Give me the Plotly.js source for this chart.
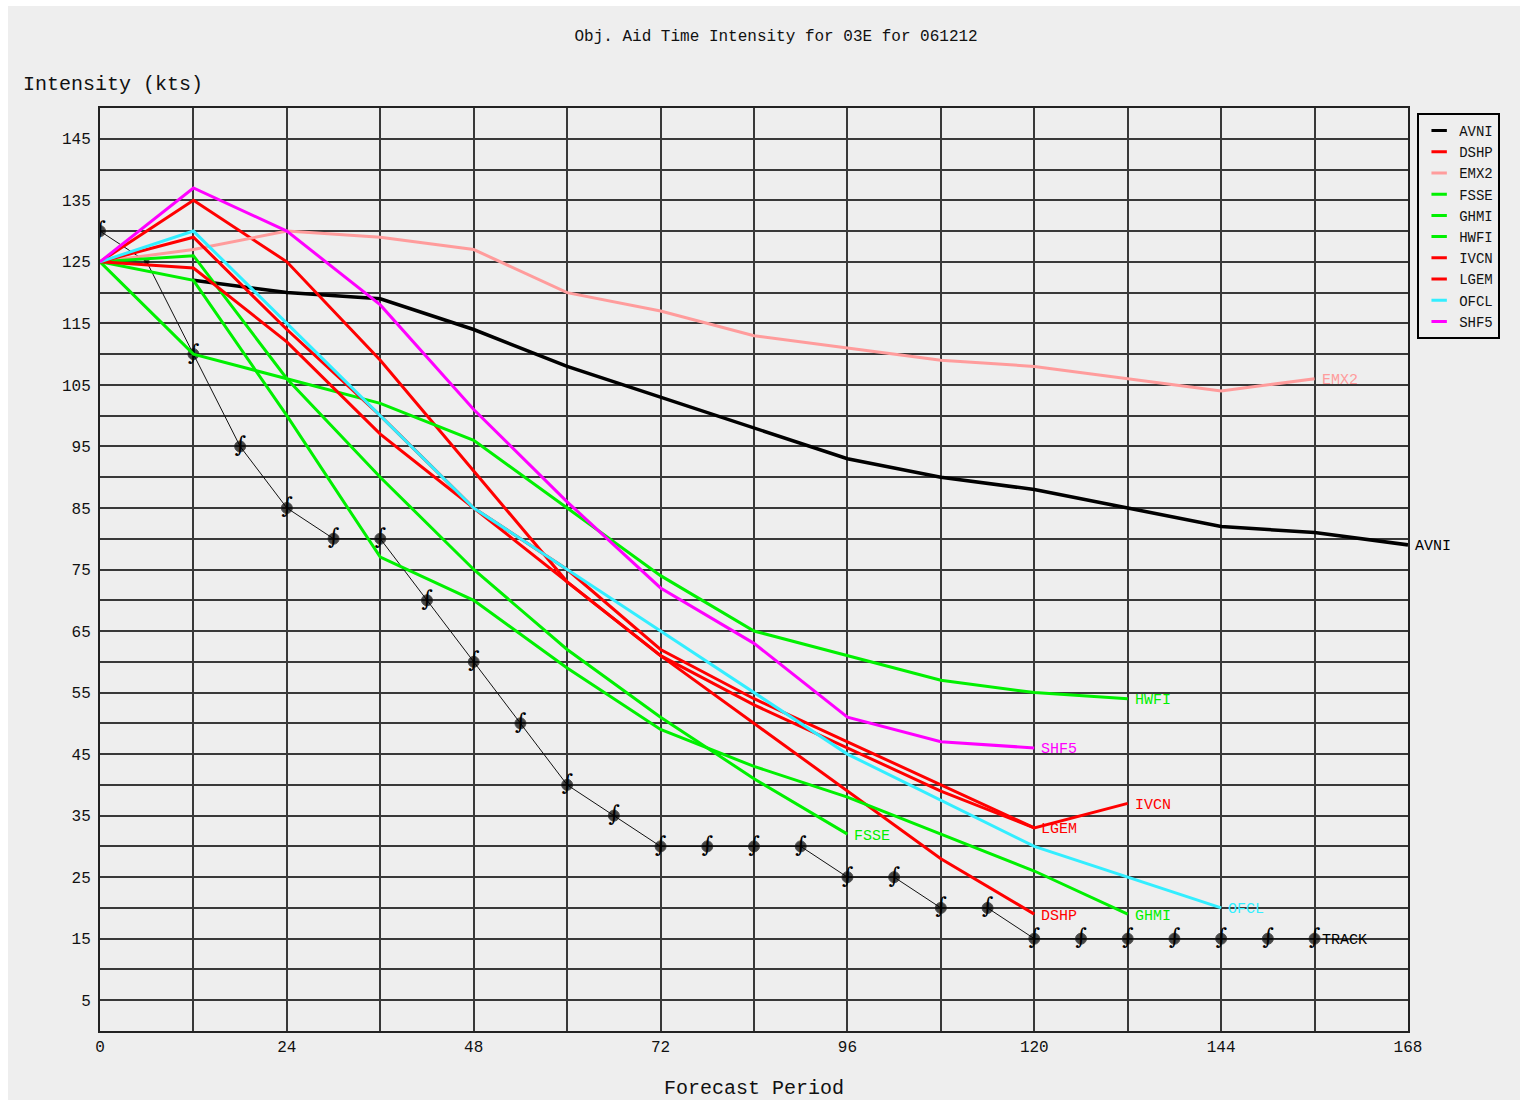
<!DOCTYPE html>
<html>
<head>
<meta charset="utf-8">
<script src="https://cdn.plot.ly/plotly-3.0.1.min.js"></script>
<style>
html,body{margin:0;padding:0;background:#ffffff;}
#chart{position:absolute;left:8px;top:6px;width:1512px;height:1094px;}
</style>
</head>
<body>
<div id="chart"></div>
<script>
// ---- data ----
const avniHours = [12,24,36,48,60,72,84,96,108,120,132,144,156,168];
const avniVals  = [122,120,119,114,108,103,98,93,90,88,85,82,81,79];

const dshpHours = [0,12,24,36,48,60,72,84,96,108,120];
const dshpVals  = [125,135,125,109,91,73,61,50,39,28,19];

const emx2Hours = [0,12,24,36,48,60,72,84,96,108,120,132,144,156];
const emx2Vals  = [125,127,130,129,127,120,117,113,111,109,108,106,104,106];

const fsseHours = [0,12,24,36,48,60,72,84,96];
const fsseVals  = [125,126,106,90,75,62,51,41,32];

const ghmiHours = [0,12,24,36,48,60,72,84,96,108,120,132];
const ghmiVals  = [125,122,100,77,70,59,49,43,38,32,26,19];

const hwfiHours = [0,12,24,36,48,60,72,84,96,108,120,132];
const hwfiVals  = [125,110,106,102,96,85,74,65,61,57,55,54];

const ivcnHours = [0,12,24,36,48,60,72,84,96,108,120,132];
const ivcnVals  = [125,124,112,97,85,73,61,53,46,39,33,37];

const lgemHours = [0,12,24,36,48,60,72,84,96,108,120];
const lgemVals  = [125,129,114,100,85,75,62,54,47,40,33];

const ofclHours = [0,12,24,36,48,72,96,120,144];
const ofclVals  = [125,130,115,100,85,65,45,30,20];

const shf5Hours = [0,12,24,36,48,60,72,84,96,108,120];
const shf5Vals  = [125,137,130,118,101,86,72,63,51,47,46];

const trackHours = [0,6,12,18,24,30,36,42,48,54,60,66,72,78,84,90,96,102,108,114,120,126,132,138,144,150,156];
const trackVals  = [130,125,110,95,85,80,80,70,60,50,40,35,30,30,30,30,25,25,20,20,15,15,15,15,15,15,15];

const xTickLabels = [0,24,48,72,96,120,144,168];
const yTickLabels = [5,15,25,35,45,55,65,75,85,95,105,115,125,135,145];

// ---- styling ----
const models = [
  {name:'AVNI', x:avniHours, y:avniVals, color:'#000000', width:3.5},
  {name:'DSHP', x:dshpHours, y:dshpVals, color:'#ff0000', width:3},
  {name:'EMX2', x:emx2Hours, y:emx2Vals, color:'#ff9c9c', width:3},
  {name:'FSSE', x:fsseHours, y:fsseVals, color:'#00f000', width:3},
  {name:'GHMI', x:ghmiHours, y:ghmiVals, color:'#00f000', width:3},
  {name:'HWFI', x:hwfiHours, y:hwfiVals, color:'#00f000', width:3},
  {name:'IVCN', x:ivcnHours, y:ivcnVals, color:'#ff0000', width:3},
  {name:'LGEM', x:lgemHours, y:lgemVals, color:'#ff0000', width:3},
  {name:'OFCL', x:ofclHours, y:ofclVals, color:'#33eeff', width:3},
  {name:'SHF5', x:shf5Hours, y:shf5Vals, color:'#ff00ff', width:3}
];

// grid positions every 12 h / 5 kts, labels only where the reference has them
function gridTicks(max, step, labels) {
  const vals = [], text = [];
  for (let v = 0; v <= max; v += step) {
    vals.push(v);
    text.push(labels.includes(v) ? String(v) : '');
  }
  return {vals, text};
}
const xg = gridTicks(168, 12, xTickLabels);
const yg = gridTicks(150, 5, yTickLabels);

const mono = 'Liberation Mono, Courier New, monospace';
const traces = [];
const annotations = [];

// track line with storm symbols
traces.push({
  x: trackHours, y: trackVals, mode:'lines+markers', showlegend:false,
  line:{color:'#111', width:1},
  marker:{symbol:'circle', color:'#000', size: trackHours.map(h => h===6 ? 5 : 11)},
  hoverinfo:'skip'
});
traces.push({
  x: trackHours.filter(h => h!==6), y: trackVals.filter((v,i) => trackHours[i]!==6),
  mode:'text', showlegend:false, text: trackHours.filter(h => h!==6).map(() => '∫'),
  textposition:'middle center',
  textfont:{family:'DejaVu Serif', size:22, color:'#000'},
  hoverinfo:'skip'
});
annotations.push({x: trackHours[trackHours.length-1], y: trackVals[trackVals.length-1],
  xref:'x', yref:'y', text:'TRACK', showarrow:false, xanchor:'left', yanchor:'middle',
  xshift:5, yshift:-2, font:{family:mono, size:15, color:'#000'}});

models.forEach(m => {
  traces.push({x:m.x, y:m.y, mode:'lines', name:m.name, showlegend:false,
    line:{color:m.color, width:m.width}, hoverinfo:'skip'});
  annotations.push({x:m.x[m.x.length-1], y:m.y[m.y.length-1], xref:'x', yref:'y',
    text:m.name, showarrow:false, xanchor:'left', yanchor:'middle', xshift:5, yshift:-2,
    font:{family:mono, size:15, color:m.color}});
});
// legend entries with short line samples
models.forEach(m => {
  traces.push({x:[null], y:[null], mode:'markers', name:m.name, showlegend:true,
    marker:{symbol:'line-ew', size:11, line:{color:m.color, width:3}}});
});

annotations.push({xref:'paper', yref:'paper', x:-0.0604, y:1.026, xanchor:'left', yanchor:'middle',
  text:'Intensity (kts)', showarrow:false, font:{family:mono, size:20, color:'#111'}});

const layout = {
  width:1512, height:1094,
  margin:{l:92, r:112, t:102, b:69},
  paper_bgcolor:'#eeeeee', plot_bgcolor:'#eeeeee',
  title:{text:'Obj. Aid Time Intensity for 03E for 061212', x:0.508, xanchor:'center',
    y:0.973, yanchor:'middle', xref:'container', yref:'container',
    font:{family:mono, size:16, color:'#111'}},
  showlegend:true,
  legend:{x:1.007, y:0.9946, xanchor:'left', yanchor:'top', bgcolor:'#eeeeee',
    bordercolor:'#000', borderwidth:2, font:{family:mono, size:14, color:'#111'},
    itemwidth:30, tracegroupgap:0},
  xaxis:{range:[0,168], tickmode:'array', tickvals:xg.vals, ticktext:xg.text,
    showgrid:true, gridcolor:'#383838', gridwidth:2,
    showline:true, linecolor:'#222', linewidth:2, mirror:true, ticks:'', zeroline:false,
    tickfont:{family:mono, size:16, color:'#111'},
    title:{text:'Forecast Period', font:{family:mono, size:20, color:'#111'}, standoff:27}},
  yaxis:{range:[0,150], tickmode:'array', tickvals:yg.vals, ticktext:yg.text,
    showgrid:true, gridcolor:'#383838', gridwidth:2,
    showline:true, linecolor:'#222', linewidth:2, mirror:true, ticks:'', zeroline:false,
    ticklabelstandoff:4,
    tickfont:{family:mono, size:16, color:'#111'}},
  annotations: annotations
};

Plotly.newPlot('chart', traces, layout, {displayModeBar:false, staticPlot:true});
</script>
</body>
</html>
